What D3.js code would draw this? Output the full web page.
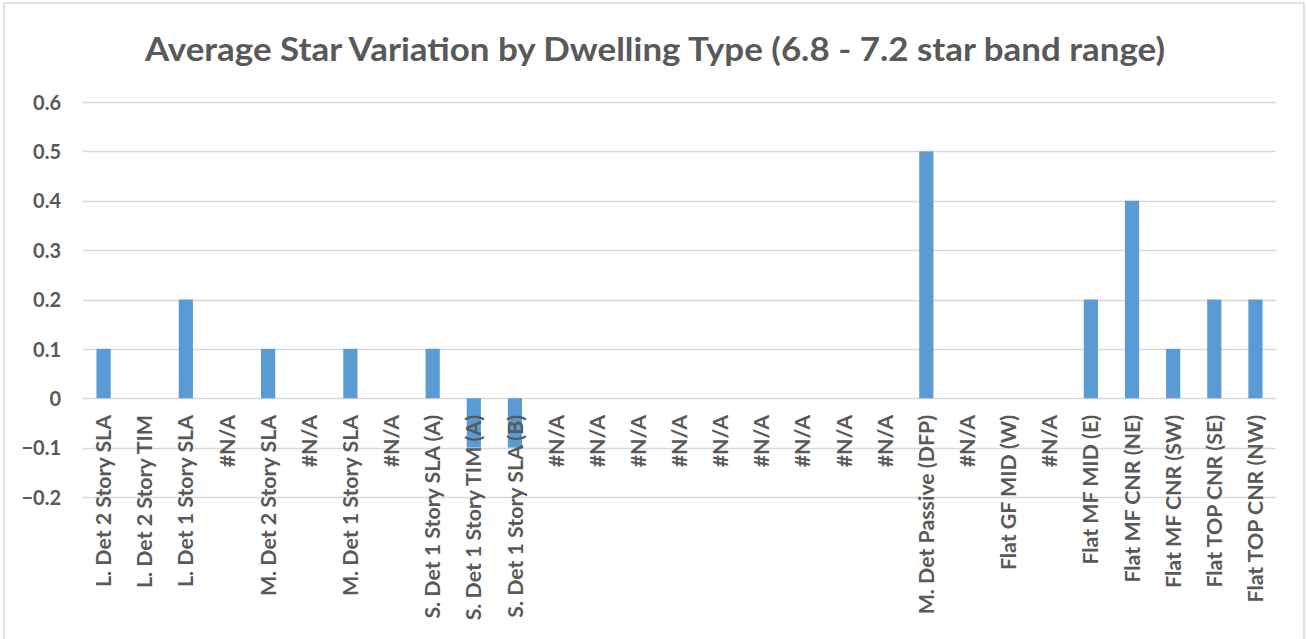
<!DOCTYPE html>
<html>
<head>
<meta charset="utf-8">
<script src="https://cdn.jsdelivr.net/npm/d3@7"></script>
<style>
  html, body { margin: 0; padding: 0; background: #fff; }
  svg { display: block; }
</style>
</head>
<body>
<svg id="chart" width="1307" height="639"></svg>
<script>
const title = "Average Star Variation by Dwelling Type (6.8 - 7.2 star band range)";
const categories = [
  "L. Det 2 Story SLA", "L. Det 2 Story TIM", "L. Det 1 Story SLA", "#N/A",
  "M. Det 2 Story SLA", "#N/A", "M. Det 1 Story SLA", "#N/A",
  "S. Det 1 Story SLA (A)", "S. Det 1 Story TIM (A)", "S. Det 1 Story SLA (B)",
  "#N/A", "#N/A", "#N/A", "#N/A", "#N/A", "#N/A", "#N/A", "#N/A", "#N/A",
  "M. Det Passive (DFP)", "#N/A", "Flat GF MID (W)", "#N/A",
  "Flat MF MID (E)", "Flat MF CNR (NE)", "Flat MF CNR (SW)", "Flat TOP CNR (SE)", "Flat TOP CNR (NW)"
];
const values = [
  0.1, 0, 0.2, null,
  0.1, null, 0.1, null,
  0.1, -0.1, -0.1,
  null, null, null, null, null, null, null, null, null,
  0.5, null, 0, null,
  0.2, 0.4, 0.1, 0.2, 0.2
];
const yTicks = [-0.2, -0.1, 0, 0.1, 0.2, 0.3, 0.4, 0.5, 0.6];

const svg = d3.select("#chart");
const font = "Lato, 'Open Sans', sans-serif";
const textColor = "#595959";

// chart border
svg.append("rect")
  .attr("x", 4).attr("y", 3).attr("width", 1300).attr("height", 660)
  .attr("fill", "#fff").attr("stroke", "#d9d9d9").attr("stroke-width", 1.5);

const plot = { left: 83, right: 1276, top: 102, bottom: 497 };

const x = d3.scaleBand()
  .domain(d3.range(categories.length))
  .range([plot.left, plot.right])
  .paddingInner(0.655).paddingOuter(0.3275);

const y = d3.scaleLinear().domain([-0.2, 0.6]).range([plot.bottom, plot.top]);

// gridlines
svg.append("g")
  .selectAll("line")
  .data(yTicks)
  .join("line")
  .attr("x1", plot.left).attr("x2", plot.right)
  .attr("y1", d => Math.round(y(d)) + 0.5).attr("y2", d => Math.round(y(d)) + 0.5)
  .attr("stroke", "#d9d9d9").attr("stroke-width", 1.5);

// y axis labels
const yAxis = d3.axisLeft(y).tickValues(yTicks).tickSize(0).tickPadding(0)
  .tickFormat(d => d3.format("")(+d.toFixed(1)));
const yg = svg.append("g").attr("transform", `translate(61,0)`).call(yAxis);
yg.select(".domain").remove();
yg.selectAll("text")
  .attr("font-family", font).attr("font-weight", "bold")
  .attr("font-size", 20).attr("fill", textColor)
  .attr("dy", "0.36em");

// bars
const barData = values.map((v, i) => ({ i, v })).filter(d => d.v !== null && d.v !== 0);
svg.append("g")
  .selectAll("rect")
  .data(barData)
  .join("rect")
  .attr("x", d => x(d.i))
  .attr("width", x.bandwidth())
  .attr("y", d => y(Math.max(0, d.v)))
  .attr("height", d => Math.abs(y(d.v) - y(0)))
  .attr("fill", "#5b9bd5");

// category labels (rotated)
const xg = svg.append("g");
const labels = xg.selectAll("text")
  .data(categories)
  .join("text")
  .attr("transform", (d, i) => `translate(${x(i) + x.bandwidth() / 2},415) rotate(-90)`)
  .attr("text-anchor", "end")
  .attr("dy", "0.36em")
  .attr("font-family", font).attr("font-weight", "bold")
  .attr("font-size", 21).attr("fill", textColor)
  .text(d => d);
// horizontally condense to match the narrow reference face
const refLen = labels.filter((d, i) => i === 0).node().getComputedTextLength();
const k = 172 / refLen;
labels.each(function () {
  const L = this.getComputedTextLength();
  d3.select(this).attr("textLength", L * k).attr("lengthAdjust", "spacingAndGlyphs");
});

// title
svg.append("text")
  .attr("x", 655).attr("y", 61)
  .attr("text-anchor", "middle")
  .attr("font-family", font).attr("font-weight", "bold")
  .attr("font-size", 32).attr("fill", textColor)
  .attr("textLength", 1020).attr("lengthAdjust", "spacingAndGlyphs")
  .text(title);
</script>
</body>
</html>
